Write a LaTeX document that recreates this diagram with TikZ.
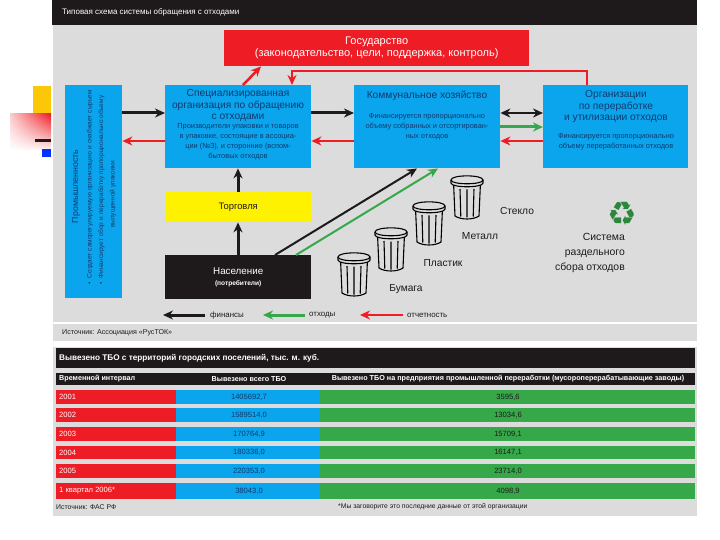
\documentclass[tikz,border=0pt]{standalone}
\usepackage{fontspec}
\setmainfont{Liberation Sans}
\newfontfamily\symfont{DejaVu Sans}
\usetikzlibrary{arrows.meta,positioning,calc,shadings}
\definecolor{cblue}{HTML}{0AA5EC}
\definecolor{cred}{HTML}{EE1C25}
\definecolor{cgreen}{HTML}{37A84A}
\definecolor{cyel}{HTML}{FFF200}
\definecolor{cblack}{HTML}{1E1A1B}
\definecolor{cgray}{HTML}{DCDCDC}
\definecolor{cdark}{HTML}{103A70}
\tikzset{
  box/.style={draw=none,minimum width=#1,inner sep=0pt,align=center,anchor=north west},
  arr/.style={line width=3pt,-{Stealth[length=10pt,width=9pt]}},
  arrk/.style={arr,draw=cblack},
  arrg/.style={arr,draw=cgreen},
  arrr/.style={arr,line width=2.5pt,draw=cred},
  lab/.style={inner sep=0pt,text=cblack,font=\fontsize{10.2}{12}\selectfont},
  small/.style={inner sep=0pt,text=cdark,align=center,font=\fontsize{7.4}{10}\selectfont},
  head/.style={inner sep=0pt,text=cdark,align=center,font=\fontsize{10.2}{11.4}\selectfont},
  wt/.style={inner sep=0pt,text=white},
  cell/.style={inner sep=0pt,font=\fontsize{7.6}{8}\selectfont},
  hcell/.style={wt,font=\bfseries\fontsize{7.2}{8}\selectfont},
  legtxt/.style={lab,anchor=west,font=\fontsize{7.9}{9}\selectfont},
}
\newcommand{\trashbin}[3]{% left x, top y, name
  \begin{scope}[shift={(#1,#2)},draw=black,line width=1.1pt]
    \draw (2.5,6) -- (4,40) .. controls (10,44) and (22,44) .. (28,40) -- (29.5,6);
    \draw[fill=cgray] (0,4) .. controls (0,-1.5) and (32,-1.5) .. (32,4) -- (32,7) .. controls (32,12) and (0,12) .. (0,7) -- cycle;
    \draw (0,4) .. controls (0,9) and (32,9) .. (32,4);
    \draw (9,13) -- (9.8,40.5) (16,13.5) -- (16,41.5) (23,13) -- (22.2,40.5);
  \end{scope}
  \coordinate (#3) at (#1,#2);
}
\begin{document}
\begin{tikzpicture}[x=1pt,y=-1pt]
\useasboundingbox (0,0) rectangle (720,540);
\fill[white] (0,0) rectangle (720,540);
% left decoration
\fill[yellow!60!orange] (33,86) rectangle (51,115);
\shade[upper left=cred!22,upper right=cred,lower left=white,lower right=cred!5] (10,114) rectangle (51,150);
\fill[cblack] (35,139.5) rectangle (51,142.5);
\fill[blue!80!cyan] (42,149) rectangle (51,157);
% panels
\fill[cgray] (53,25) rectangle (697,322);
\fill[cgray] (53,324) rectangle (697,341);
\fill[cgray] (53,347) rectangle (697,516);
\fill[cblack] (52,0) rectangle (697,25);
\node[wt,anchor=west,font=\fontsize{8}{9}\selectfont] (title) at (62,12) {Типовая схема системы обращения с отходами};
% boxes
\node[box=305pt,minimum height=36pt,fill=cred,text=white,font=\fontsize{11}{12}\selectfont] (gov) at (224,30) {Государство\\(законодательство, цели, поддержка, контроль)};
\node[box=57pt,minimum height=213pt,fill=cblue] (ind) at (65,85) {};
\node[box=146pt,minimum height=83pt,fill=cblue] (spec) at (165,85) {};
\node[box=146pt,minimum height=83pt,fill=cblue] (kom) at (354,85) {};
\node[box=145pt,minimum height=83pt,fill=cblue] (org) at (543,85) {};
\node[box=146pt,minimum height=30pt,fill=cyel,text=cblack,font=\fontsize{9.4}{10}\selectfont] (trade) at (165,192) {Торговля};
\node[box=146pt,minimum height=44pt,fill=cblack,text=white,font=\fontsize{9.8}{11}\selectfont] (pop) at (165,255) {Население\\{\bfseries\fontsize{6.6}{8}\selectfont (потребители)}};
% texts in blue boxes
\node[head,rotate=90,font=\fontsize{8.8}{10}\selectfont] (t1) at (76,186.5) {Промышленность};
\node[small,rotate=90,anchor=west,align=left,text width=195pt,font=\fontsize{6.5}{11.5}\selectfont] (t2) at (101.5,285) {•\ \ Создает саморегулируемую организацию и снабжает сырьем\\•\ \ Финансирует сбор и переработку пропорционально объему\\\hspace*{57pt}выпущенной упаковки};
\node[head] (t3) at (238,105.5) {Специализированная\\организация по обращению\\с отходами};
\node[small] (t4) at (238,142) {Производители упаковки и товаров\\в упаковке, состоящие в ассоциа-\\ции (№3), и сторонние (вспом-\\бытовых отходов};
\node[head] (t5) at (427,96) {Коммунальное хозяйство};
\node[small] (t6) at (427,127) {Финансируется пропорционально\\объему собранных и отсортирован-\\ных отходов};
\node[head] (t7) at (616,106.5) {Организации\\по переработке\\и утилизации отходов};
\node[small] (t8) at (616,142) {Финансируется пропорционально\\объему переработанных отходов};
% connectors
\draw[arrk] (ind.east |- 0,113) -- (spec.west |- 0,113);
\draw[arrr] (spec.west |- 0,141) -- (ind.east |- 0,141);
\draw[arrk] (spec.east |- 0,113) -- (kom.west |- 0,113);
\draw[arrr] (kom.west |- 0,141) -- (spec.east |- 0,141);
\draw[arrk,line width=2.6pt,{Stealth[length=10pt,width=9pt]}-{Stealth[length=10pt,width=9pt]}] (kom.east |- 0,113) -- (org.west |- 0,113);
\draw[arrg] (kom.east |- 0,127) -- (org.west |- 0,127);
\draw[arrr] (org.west |- 0,141) -- (kom.east |- 0,141);
\draw[arrr] (243,85) -- (gov.south west -| 261,0);
\draw[arrr,line width=2pt] (org.north -| 587,0) |- (292,71) -- (spec.north -| 292,0);
\draw[arrk] (trade.north -| 238,0) -- (spec.south -| 238,0);
\draw[arrk] (pop.north -| 238,0) -- (trade.south -| 238,0);
\draw[arrk,line width=2pt] (pop.north -| 275,0) -- (417,168.5);
\draw[arrg,line width=2pt] (pop.north -| 296,0) -- (438,168.5);
% bins
\trashbin{338}{253}{b1}
\trashbin{375}{228}{b2}
\trashbin{413}{202}{b3}
\trashbin{451}{176}{b4}
\node[lab] (l1) at (406,289) {Бумага};
\node[lab] (l2) at (443,263) {Пластик};
\node[lab] (l3) at (480,236) {Металл};
\node[lab] (l4) at (517,211) {Стекло};
\node[inner sep=0pt,text=cgreen!80!black,font=\symfont\fontsize{33}{33}\selectfont] (rec) at (622,214) {♻};
\node[lab,align=right,anchor=north east,font=\fontsize{10.4}{15}\selectfont] (sys) at (625,233) {Система\\раздельного\\сбора отходов};
% legend
\coordinate (lk1) at (205,315); \coordinate (lk2) at (163,315);
\coordinate (lg1) at (305,315); \coordinate (lg2) at (263,315);
\coordinate (lr1) at (403,315); \coordinate (lr2) at (360,315);
\draw[arrk] (lk1) -- (lk2);
\draw[arrg] (lg1) -- (lg2);
\draw[arrr] (lr1) -- (lr2);
\node[legtxt] (n1) at (210,315.5) {финансы};
\node[legtxt] (n2) at (309,315.5) {отходы};
\node[legtxt] (n3) at (407,315.5) {отчетность};
\node[lab,anchor=west,font=\fontsize{7.1}{8}\selectfont] (src1) at (62,332.5) {Источник: Ассоциация «РусТОК»};
% table
\fill[cblack] (56,348) rectangle (695,368);
\node[wt,anchor=west,font=\bfseries\fontsize{8.2}{9}\selectfont] (tt) at (59,358) {Вывезено ТБО с территорий городских поселений, тыс. м. куб.};
\fill[cblack] (56,373) rectangle (695,385);
\node[hcell,anchor=west] (h1) at (59,379) {Временной интервал};
\node[hcell] (h2) at (249,379) {Вывезено всего ТБО};
\node[hcell] (h3) at (508,379) {Вывезено ТБО на предприятия промышленной переработки (мусороперерабатывающие заводы)};
\foreach \a/\b/\y/\l/\u/\v in {
  390/404/397/2001/{1405692,7}/{3595,6},
  408/422/415/2002/{1589514,0}/{13034,6},
  427/441/434/2003/{170764,9}/{15709,1},
  446/459/452.5/2004/{180336,0}/{16147,1},
  464/478/471/2005/{220353,0}/{23714,0},
  483/499/491/{1 квартал 2006*}/{38043,0}/{4098,9}}{
  \fill[cred] (56,\a) rectangle (176,\b);
  \fill[cblue] (176,\a) rectangle (320,\b);
  \fill[cgreen] (320,\a) rectangle (695,\b);
  \node[wt,cell,anchor=west] at (59,\y) {\l};
  \node[cell,text=cdark] at (249,\y) {\u};
  \node[cell,text=cblack] at (508,\y) {\v};
}
\node[lab,anchor=west,font=\fontsize{6.9}{8}\selectfont] (src2) at (56,507) {Источник: ФАС РФ};
\node[lab,anchor=west,font=\fontsize{6.8}{8}\selectfont] (note) at (338,507) {*Мы заговорите это последние данные от этой организации};
\end{tikzpicture}
\end{document}
